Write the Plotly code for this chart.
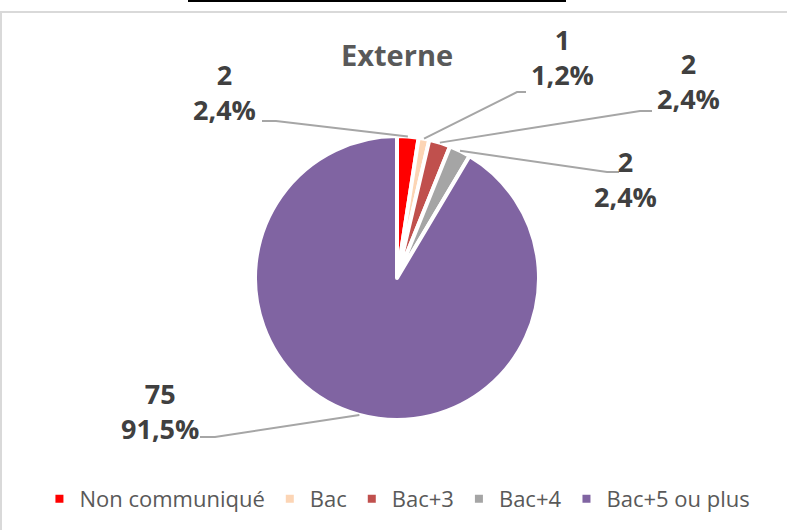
import math
import plotly.graph_objects as go

# ---- data ----
categories = ["Non communiqué", "Bac", "Bac+3", "Bac+4", "Bac+5 ou plus"]
values = [2, 1, 2, 2, 75]
colors = ["#FF0000", "#FCD5B5", "#C0504D", "#A5A5A5", "#8064A2"]
title_text = "Externe"

# ---- layout constants (pixels) ----
W, H = 787, 530
CX, CY, R = 397.0, 278.0, 142.0
label_centers = [(224, 92), (562, 57), (688, 81), (625, 179), (160, 411)]
elbows = [(276, 121), (517, 92), (640, 111), (607, 172), (215, 437)]
ends = [(262, 121), (526, 92), (652, 111), (619, 172), (200, 437)]


def fx(x):
    return x / W


def fy(y):
    return 1 - y / H


total = sum(values)

fig = go.Figure()
fig.add_trace(go.Pie(
    labels=categories,
    values=values,
    sort=False,
    direction="clockwise",
    rotation=0,
    marker=dict(colors=colors, line=dict(color="white", width=4)),
    textinfo="none",
    hoverinfo="label+value+percent",
    domain=dict(x=[fx(CX - R), fx(CX + R)], y=[fy(CY + R), fy(CY - R)]),
))

shapes = []
annotations = []
cum = 0
for i, v in enumerate(values):
    mid = (cum + v / 2) / total * 2 * math.pi
    cum += v
    sx = CX + R * math.sin(mid)
    sy = CY - R * math.cos(mid)
    ex, ey = elbows[i]
    tx, ty = ends[i]
    path = f"M{fx(sx)},{fy(sy)} L{fx(ex)},{fy(ey)} L{fx(tx)},{fy(ty)}"
    shapes.append(dict(type="path", xref="paper", yref="paper", path=path,
                       line=dict(color="#A6A6A6", width=2)))
    pct = f"{v / total * 100:.1f}".replace(".", ",") + "%"
    lx, ly = label_centers[i]
    annotations.append(dict(
        x=fx(lx), y=fy(ly), xref="paper", yref="paper",
        text=f"<b>{v}</b><br><b>{pct}</b>", showarrow=False,
        xanchor="center", yanchor="middle", align="center",
        font=dict(family="Open Sans", size=27, color="#404040"),
    ))

annotations.append(dict(
    x=fx(397), y=fy(55), xref="paper", yref="paper",
    text=f"<b>{title_text}</b>", showarrow=False,
    xanchor="center", yanchor="middle",
    font=dict(family="Open Sans", size=29, color="#595959"),
))

# chart frame and top black rule
shapes.append(dict(type="rect", xref="paper", yref="paper",
                   x0=fx(1), y0=fy(12), x1=fx(W + 10), y1=fy(H + 10),
                   line=dict(color="#D9D9D9", width=2)))
shapes.append(dict(type="line", xref="paper", yref="paper",
                   x0=fx(188), y0=fy(1), x1=fx(566), y1=fy(1),
                   line=dict(color="black", width=2)))

fig.update_layout(
    width=W, height=H,
    margin=dict(l=0, r=0, t=0, b=0),
    paper_bgcolor="white", plot_bgcolor="white",
    showlegend=True,
    legend=dict(orientation="h", x=0.505, xanchor="center", y=fy(499), yanchor="middle",
                font=dict(family="Open Sans", size=22, color="#595959"),
                bgcolor="rgba(0,0,0,0)", traceorder="normal"),
    shapes=shapes,
    annotations=annotations,
)

fig.write_html("out.html",
               config={"displayModeBar": False},
               post_script="document.body.style.margin='0px';document.body.style.padding='0px';")
